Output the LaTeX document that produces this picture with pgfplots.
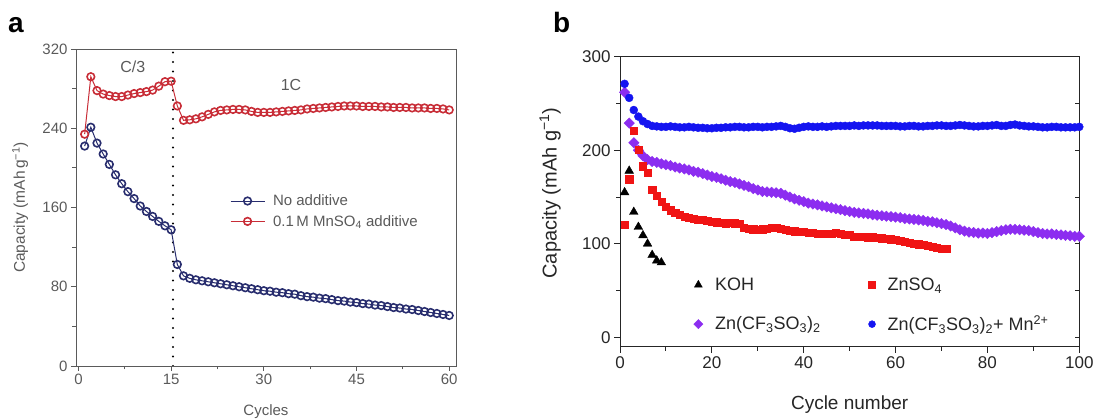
\documentclass[border=0pt]{standalone}
\usepackage{pgfplots}
\pgfplotsset{compat=1.18}
\usepackage{fontspec}
\setmainfont{Liberation Sans}
\definecolor{agray}{RGB}{90,90,90}
\definecolor{anavy}{RGB}{40,45,110}
\definecolor{ared}{RGB}{200,45,55}
\definecolor{bblue}{RGB}{20,20,240}
\definecolor{bpurple}{RGB}{140,45,240}
\definecolor{bred}{RGB}{240,20,20}
\newcommand{\fs}[1]{\fontsize{#1}{#1}\selectfont}
\begin{document}
\begin{tikzpicture}[x=1pt,y=1pt]
\useasboundingbox (0,0) rectangle (1096,419);
\node[anchor=base west, inner sep=0pt, font=\bfseries\fs{28}] at (8,386) {a};
\node[anchor=base west, inner sep=0pt, font=\bfseries\fs{28}] at (553,386) {b};

% ---------------- panel a ----------------
\begin{axis}[at={(76pt,53pt)}, anchor=south west, scale only axis,
  width=380pt, height=317pt,
  xmin=-0.4, xmax=61.1, ymin=0, ymax=320,
  xtick={0,15,30,45,60}, minor xtick={7.5,22.5,37.5,52.5},
  ytick={0,80,160,240,320}, minor ytick={40,120,200,280},
  tick pos=left, tick align=outside,
  major tick length=5pt, minor tick length=3.5pt,
  axis line style={agray, line width=0.8pt},
  every tick/.style={agray, line width=0.8pt},
  ticklabel style={font=\fs{15}, text=agray},
  /pgf/number format/assume math mode=true,
  xlabel={Cycles}, ylabel={Capacity (mAh\,g\textsuperscript{−1})},
  every axis x label/.style={at={(axis description cs:0.5,-0.155)}, anchor=base, font=\fs{15}, text=agray},
  every axis y label/.style={at={(axis description cs:-0.147,0.5)}, rotate=90, anchor=center, font=\fs{15.5}, text=agray},
  legend style={at={(axis cs:24.5,175)}, anchor=north west, draw=none, fill=none,
    inner sep=0pt, font=\fs{15}, text=agray, row sep=4pt,
    /tikz/every odd column/.append style={column sep=6pt}},
  legend cell align=left,
  legend image code/.code={\draw[mark repeat=2,mark phase=2,#1] plot coordinates {(0pt,0pt)(17pt,0pt)(34pt,0pt)};},
]
\addplot[forget plot, black, line width=2.2pt, dash pattern=on 0pt off 9.5pt, line cap=round]
  coordinates {(15.3,0) (15.3,320)};
\addplot[anavy, line width=1pt, mark=o, mark size=3.8pt, mark options={fill=white, line width=1.6pt}] table {
x y
1 222
2 241
3 225
4 214
5 203.5
6 193
7 184
8 176
9 169
10 161.5
11 156
12 151
13 146
14 141.5
15 137.5
16 102.5
17 91
18 88.5
19 87
20 86
21 85
22 84
23 83
24 82
25 81
26 80
27 79
28 78
29 77
30 76
31 75.5
32 74.5
33 74
34 73
35 72.5
36 71
37 70
38 69.5
39 68.5
40 68
41 67
42 66
43 65.5
44 64.5
45 64
46 63
47 62.5
48 61.5
49 61
50 60
51 59
52 58.5
53 57.5
54 57
55 56
56 55
57 54
58 53
59 52
60 51
};
\addlegendentry{No additive}
\addplot[ared, line width=1pt, mark=o, mark size=3.8pt, mark options={fill=white, line width=1.6pt}] table {
x y
1 234
2 292
3 278
4 274.5
5 273
6 272
7 272
8 273.5
9 275
10 276
11 277
12 278.5
13 282.5
14 287
15 287.5
16 262.5
17 248
18 248.5
19 249.5
20 251.5
21 254
22 256.5
23 258
24 258.5
25 259
26 259
27 258.5
28 257
29 256
30 256
31 256
32 256.5
33 257
34 257.5
35 258
36 258.5
37 259.5
38 260
39 260.5
40 261
41 261.5
42 262
43 262.5
44 262.5
45 262.5
46 262
47 262
48 262
49 261.5
50 261.5
51 261
52 261
53 261
54 260.5
55 260.5
56 260.5
57 260
58 260
59 259.5
60 258.5
};
\addlegendentry{0.1\,M MnSO\textsubscript{4} additive}
\node[font=\fs{16}, text=agray] at (axis cs:8.8,302) {C/3};
\node[font=\fs{16}, text=agray] at (axis cs:34.4,284) {1C};
\end{axis}

% ---------------- panel b ----------------
\begin{axis}[at={(620pt,72.3pt)}, anchor=south west, scale only axis,
  width=459.3pt, height=290pt,
  xmin=0, xmax=100, ymin=-10, ymax=300,
  xtick={0,20,...,100}, minor xtick={10,30,...,90},
  ytick={0,100,200,300}, minor ytick={50,150,250},
  tick pos=left, tick align=outside,
  major tick length=6pt, minor tick length=4pt,
  axis line style={black!85, line width=0.9pt},
  every tick/.style={black!85, line width=0.9pt},
  ticklabel style={font=\fs{17}, text=black!85},
  /pgf/number format/assume math mode=true,
  xlabel={Cycle number}, ylabel={Capacity (mAh g\textsuperscript{−1})},
  every axis x label/.style={at={(axis description cs:0.5,-0.218)}, anchor=base, font=\fs{19}, text=black!85},
  every axis y label/.style={at={(axis description cs:-0.152,0.53)}, rotate=90, anchor=center, font=\fs{20}, text=black!85},
  legend columns=2,
  legend style={at={(axis cs:16,66)}, anchor=north west, draw=none, fill=none,
    inner sep=0pt, font=\fs{18}, text=black!85, row sep=20pt,
    /tikz/every odd column/.append style={column sep=10pt},
    /tikz/every even column/.append style={column sep=46pt}},
  legend cell align=left,
  legend image code/.code={\draw[mark repeat=2,mark phase=2,#1] plot coordinates {(0pt,0pt)(5pt,0pt)(10pt,0pt)};},
]
\addplot[forget plot, only marks, mark=square*, mark size=3.7pt, color=bpurple, mark options={rotate=45, draw=bpurple, fill=bpurple}] table {
x y
1 262
2 229
3 208
4 200
5 194
6 190
7 188
8 187
9 185.5
10 184.5
11 183.5
12 182
13 181
14 180
15 179
16 177.5
17 176.5
18 175
19 173.5
20 172
21 171
22 169.5
23 168
24 166.5
25 165.5
26 164
27 162.5
28 161
29 159
30 157.5
31 156
32 155.5
33 155
34 154.5
35 154
36 152
37 150
38 148
39 146.5
40 145
41 143.5
42 142.5
43 141.5
44 140.5
45 139.5
46 138.5
47 137.5
48 136.5
49 135.5
50 134.5
51 133.5
52 133
53 132.5
54 132
55 131
56 130.5
57 130
58 129.5
59 129
60 128.5
61 128
62 127
63 126.5
64 126
65 125.5
66 125
67 124
68 123.5
69 122.5
70 121.5
71 120.5
72 119
73 117
74 115
75 113.5
76 112.5
77 112
78 111.5
79 111.5
80 111
81 112
82 113
83 114
84 115
85 115.5
86 115.5
87 115
88 114.5
89 114
90 113
91 112
92 111
93 110.5
94 110.5
95 110
96 109.5
97 109
98 108.5
99 108
100 108
};
\addplot[forget plot, only marks, mark=*, mark size=4pt, color=bblue, mark options={draw=bblue, fill=bblue}] table {
x y
1 271
2 256
3 243
4 236
5 231
6 228
7 226
8 225.5
9 225
10 225
11 225.5
12 225
13 224.5
14 224.5
15 225
16 224.5
17 224
18 224
19 223.5
20 223.5
21 224
22 224
23 224.5
24 224.5
25 225
26 225
27 224.5
28 224.5
29 225
30 225
31 224.5
32 225
33 225
34 225.5
35 226
36 225
37 223.5
38 223
39 224
40 225
41 225.5
42 225
43 225
44 225.5
45 225
46 225.5
47 226
48 226
49 226
50 226
51 226.5
52 226
53 226.5
54 226.5
55 226.5
56 226.5
57 226
58 226
59 226
60 226
61 225.5
62 225.5
63 226
64 226
65 225.5
66 225.5
67 226
68 226
69 226.5
70 226.5
71 226
72 226
73 226.5
74 227
75 226.5
76 226
77 225.5
78 225.5
79 226
80 226
81 226.5
82 227
83 226
84 226
85 227
86 227.5
87 226.5
88 226
89 225.5
90 225.5
91 225
92 224.5
93 224.5
94 225
95 225
96 224.5
97 224.5
98 224.5
99 224.5
100 225
};
\addplot[forget plot, only marks, mark=square*, mark size=3.6pt, color=bred, mark options={draw=bred, fill=bred}] table {
x y
1 120
2 169
3 221
4 201
5 183
6 176
7 158
8 151
9 145
10 140
11 136
12 133
13 131
14 129
15 127.5
16 126.5
17 126
18 125.5
19 124.5
20 124
21 123
22 122.5
23 122
24 122.5
25 122
26 121.5
27 117
28 116
29 115.5
30 115
31 115.5
32 116.5
33 117.5
34 117
35 116.5
36 115
37 114
38 113.5
39 113
40 113
41 112
42 111.5
43 111
44 111
45 110.5
46 111
47 111.5
48 111
49 110
50 109.5
51 108
52 107.5
53 107.5
54 107
55 107
56 106.5
57 106
58 105.5
59 105
60 104
61 103
62 102
63 101.5
64 100.5
65 99.5
66 99
67 98
68 97
69 96
70 95
71 94.5
};
\addplot[forget plot, only marks, mark=triangle*, mark size=5pt, color=black, mark options={draw=black, fill=black}] table {
x y
1 155
2 178
3 134
4 118
5 109
6 100
7 88
8 82
9 80
};
\addlegendimage{only marks, mark=triangle*, mark size=4.5pt, black, mark options={fill=black}}
\addlegendentry{KOH}
\addlegendimage{only marks, mark=square*, mark size=3.5pt, bred, mark options={fill=bred}}
\addlegendentry{ZnSO\textsubscript{4}}
\addlegendimage{only marks, mark=square*, mark size=3.3pt, bpurple, mark options={rotate=45, fill=bpurple}}
\addlegendentry{Zn(CF\textsubscript{3}SO\textsubscript{3})\textsubscript{2}}
\addlegendimage{only marks, mark=*, mark size=3.5pt, bblue, mark options={fill=bblue}}
\addlegendentry{Zn(CF\textsubscript{3}SO\textsubscript{3})\textsubscript{2}+ Mn\textsuperscript{2+}}
\end{axis}
\begin{axis}[at={(620pt,72.3pt)}, anchor=south west, scale only axis,
  width=459.3pt, height=290pt,
  xmin=0, xmax=100, ymin=-10, ymax=300,
  axis x line=none, axis y line*=right, axis line style={draw=none},
  ytick={0,100,200,300}, minor ytick={50,150,250}, yticklabels={},
  tick align=inside, major tick length=4pt, minor tick length=4pt,
  every tick/.style={black!85, line width=0.9pt},
]
\end{axis}
\end{tikzpicture}
\end{document}
